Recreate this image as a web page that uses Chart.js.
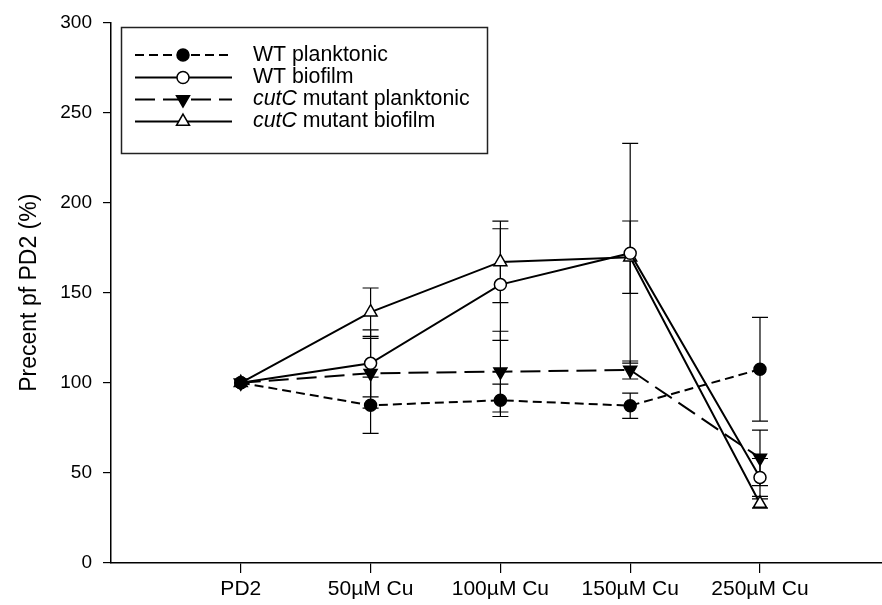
<!doctype html>
<html lang="en">
<head>
<meta charset="utf-8">
<title>Percent of PD2</title>
<script src="https://cdn.jsdelivr.net/npm/chart.js"></script>
<style>
  body { margin: 0; background: #fff; }
  #wrap { width: 882px; height: 605px; }
</style>
</head>
<body>
<div id="wrap"><canvas id="cuChart"></canvas></div>
<script>
// treatments along x
const conditions = ['PD2', '50µM Cu', '100µM Cu', '150µM Cu', '250µM Cu'];

// mean % of PD2 and error (+/-) for each strain / growth mode
const wtPlank     = [100, 87.5, 90.3, 87.3, 107.5];
const wtPlankErr  = [0, 15.6, 9, 7, 28.8];
const wtBio       = [100, 110.8, 154.5, 171.9, 47.5];
const wtBioErr    = [0, 18.6, 31, 61, 10.5];
const cutPlank    = [100, 105.3, 106.2, 107.1, 58.3];
const cutPlankErr = [0, 19.3, 22.4, 5, 15.4];
const cutBio      = [100, 139.2, 167.1, 169.7, 33];
const cutBioErr   = [0, 13.4, 22.6, 20.1, 2.6];

const yTicks = [0, 50, 100, 150, 200, 250, 300];

const FONT = "'Liberation Sans', Arial, sans-serif";

function pts(arr) {
  return arr.map((v, i) => ({ x: i + 1, y: v }));
}

const baseSet = {
  borderColor: '#000',
  borderWidth: 2,
  tension: 0,
  pointBorderColor: '#000',
  pointBorderWidth: 1.5,
  pointHoverRadius: 6
};

const datasets = [
  Object.assign({}, baseSet, {
    label: 'WT planktonic', italic: '', data: pts(wtPlank), errors: wtPlankErr,
    borderDash: [9, 5], pointStyle: 'circle', pointRadius: 6,
    pointBackgroundColor: '#000', pointRotation: 0
  }),
  Object.assign({}, baseSet, {
    label: 'WT biofilm', italic: '', data: pts(wtBio), errors: wtBioErr,
    borderDash: [], pointStyle: 'circle', pointRadius: 6,
    pointBackgroundColor: '#fff', pointRotation: 0
  }),
  Object.assign({}, baseSet, {
    label: ' mutant planktonic', italic: 'cutC', data: pts(cutPlank), errors: cutPlankErr,
    borderDash: [20, 8], pointStyle: 'triangle', pointRadius: 7.5,
    pointBackgroundColor: '#000', pointRotation: 180
  }),
  Object.assign({}, baseSet, {
    label: ' mutant biofilm', italic: 'cutC', data: pts(cutBio), errors: cutBioErr,
    borderDash: [], pointStyle: 'triangle', pointRadius: 7.5,
    pointBackgroundColor: '#fff', pointRotation: 0
  })
];

// vertical error bars with caps, drawn under the lines
const errorBars = {
  id: 'errorBars',
  beforeDatasetsDraw(chart) {
    const ctx = chart.ctx;
    const ys = chart.scales.y;
    ctx.save();
    ctx.strokeStyle = '#000';
    ctx.lineWidth = 1.2;
    chart.data.datasets.forEach((ds, di) => {
      const meta = chart.getDatasetMeta(di);
      meta.data.forEach((el, i) => {
        const e = ds.errors[i];
        if (!e) return;
        const v = ds.data[i].y;
        const top = ys.getPixelForValue(v + e);
        const bot = ys.getPixelForValue(v - e);
        ctx.beginPath();
        ctx.moveTo(el.x, top); ctx.lineTo(el.x, bot);
        ctx.moveTo(el.x - 8, top); ctx.lineTo(el.x + 8, top);
        ctx.moveTo(el.x - 8, bot); ctx.lineTo(el.x + 8, bot);
        ctx.stroke();
      });
    });
    ctx.restore();
  }
};

// boxed legend with line samples and mixed italic labels
const boxLegend = {
  id: 'boxLegend',
  afterDraw(chart) {
    const ctx = chart.ctx;
    ctx.save();
    ctx.strokeStyle = '#222';
    ctx.lineWidth = 1.5;
    ctx.strokeRect(121.5, 27.5, 366, 126);
    const rowY = [55, 77.5, 99.5, 121.5];
    chart.data.datasets.forEach((ds, i) => {
      const y = rowY[i];
      ctx.strokeStyle = '#000';
      ctx.lineWidth = 2;
      ctx.setLineDash(ds.borderDash);
      ctx.beginPath();
      ctx.moveTo(135, y); ctx.lineTo(232, y);
      ctx.stroke();
      ctx.setLineDash([]);
      ctx.fillStyle = ds.pointBackgroundColor;
      ctx.lineWidth = ds.pointBorderWidth;
      Chart.helpers.drawPoint(ctx, {
        pointStyle: ds.pointStyle, rotation: ds.pointRotation,
        radius: ds.pointRadius, borderWidth: ds.pointBorderWidth
      }, 183, y);
      ctx.fillStyle = '#000';
      ctx.textBaseline = 'middle';
      let x = 253;
      if (ds.italic) {
        ctx.font = 'italic 21.3px ' + FONT;
        ctx.fillText(ds.italic, x, y);
        x += ctx.measureText(ds.italic).width;
      }
      ctx.font = '21.3px ' + FONT;
      ctx.fillText(ds.label, x, y);
    });
    ctx.restore();
  }
};

new Chart(document.getElementById('cuChart'), {
  type: 'line',
  data: { datasets: datasets },
  options: {
    responsive: true,
    maintainAspectRatio: false,
    animation: false,
    layout: { autoPadding: false, padding: { top: 20, right: 0, bottom: 0, left: 0 } },
    plugins: {
      legend: { display: false },
      tooltip: { enabled: false }
    },
    scales: {
      x: {
        type: 'linear',
        min: 0,
        max: 5.94,
        afterBuildTicks: (s) => { s.ticks = conditions.map((c, i) => ({ value: i + 1 })); },
        afterFit: (s) => { s.height = 42; },
        border: { display: true, color: '#000', width: 1.5 },
        grid: { drawOnChartArea: false, drawTicks: true, tickLength: 10, color: '#000', lineWidth: 1.2 },
        ticks: {
          color: '#000', padding: 4, maxRotation: 0, autoSkip: false,
          font: { family: FONT, size: 21 },
          callback: (v) => conditions[v - 1]
        }
      },
      y: {
        min: 0,
        max: 300,
        afterBuildTicks: (s) => { s.ticks = yTicks.map(v => ({ value: v })); },
        afterFit: (s) => { s.width = 111; },
        border: { display: true, color: '#000', width: 1.5 },
        grid: { drawOnChartArea: false, drawTicks: true, tickLength: 8, color: '#000', lineWidth: 1.2 },
        ticks: {
          color: '#000', padding: 11,
          font: { family: FONT, size: 19 }
        },
        title: {
          display: true,
          text: 'Precent pf PD2 (%)',
          color: '#000',
          padding: { top: 16, bottom: 0 },
          font: { family: FONT, size: 23 }
        }
      }
    }
  },
  plugins: [errorBars, boxLegend]
});
</script>
</body>
</html>
